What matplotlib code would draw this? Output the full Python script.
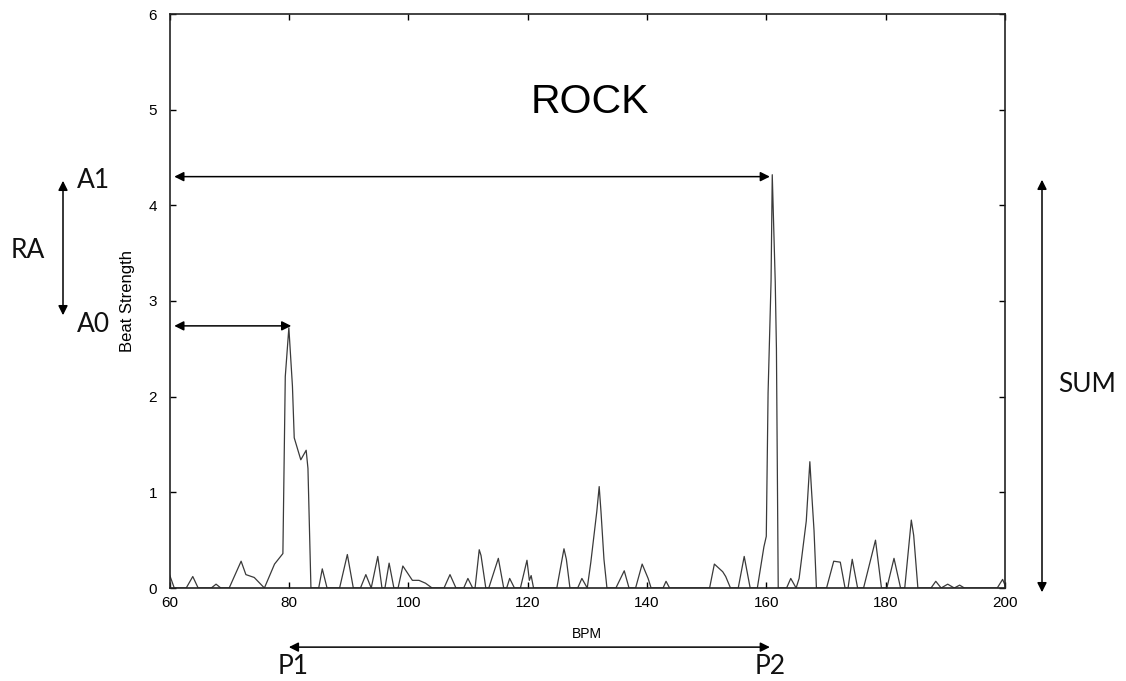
import matplotlib
matplotlib.use("Agg")
import matplotlib.pyplot as plt

bpm = [60.0, 60.8, 62.8, 63.9, 64.8, 67.0, 67.8, 68.6, 70.0, 72.0, 72.8, 74.2, 75.9,
       77.6, 79.0, 79.4, 80.0, 80.6, 80.9, 82.0, 82.9, 83.2, 83.7, 85.0, 85.6, 86.4,
       88.5, 89.8, 90.8, 92.0, 92.9, 93.8, 94.9, 95.6, 96.1, 96.8, 97.6, 98.3, 99.1,
       100.7, 101.8, 102.9, 104.0, 106.0, 107.0, 108.0, 109.3, 110.0, 110.8, 111.2,
       111.9, 112.2, 113.0, 113.5, 115.1, 116.0, 116.5, 117.0, 117.8, 118.8, 119.9,
       120.3, 120.6, 121.0, 124.9, 126.1, 126.5, 127.1, 128.4, 129.1, 130.0, 130.6,
       131.6, 132.0, 132.3, 132.8, 133.3, 134.8, 136.2, 137.0, 138.1, 139.2, 140.2,
       140.7, 142.7, 143.2, 143.8, 150.5, 151.3, 152.7, 153.2, 154.0, 155.3, 156.3,
       157.3, 158.5, 159.6, 160.0, 160.3, 160.8, 161.0, 161.5, 161.7, 162.0, 163.4,
       164.1, 165.0, 165.5, 166.7, 167.3, 167.6, 168.0, 168.4, 170.1, 171.3, 172.4,
       173.2, 173.7, 174.4, 175.3, 176.3, 178.3, 179.3, 180.2, 181.4, 182.5, 183.2,
       184.3, 184.7, 185.4, 187.6, 188.4, 189.3, 190.4, 191.5, 192.4, 193.2, 198.7,
       199.6, 200.0]
strength = [0.14, 0.0, 0.0, 0.12, 0.0, 0.0, 0.04, 0.0, 0.0, 0.28, 0.14, 0.11, 0.0,
            0.25, 0.36, 2.21, 2.72, 2.11, 1.57, 1.34, 1.44, 1.25, 0.0, 0.0, 0.2, 0.0,
            0.0, 0.35, 0.0, 0.0, 0.14, 0.0, 0.33, 0.0, 0.0, 0.26, 0.0, 0.0, 0.23,
            0.08, 0.08, 0.05, 0.0, 0.0, 0.14, 0.0, 0.0, 0.1, 0.0, 0.0,
            0.40, 0.34, 0.0, 0.0, 0.31, 0.0, 0.0, 0.1, 0.0, 0.0, 0.29,
            0.08, 0.13, 0.0, 0.0, 0.41, 0.3, 0.0, 0.0, 0.1, 0.0, 0.27,
            0.8, 1.06, 0.8, 0.3, 0.0, 0.0, 0.18, 0.0, 0.0, 0.25, 0.1,
            0.0, 0.0, 0.07, 0.0, 0.0, 0.25, 0.17, 0.12, 0.0, 0.0, 0.33,
            0.0, 0.0, 0.43, 0.54, 2.04, 3.21, 4.32, 3.2, 2.5, 0.0, 0.0,
            0.1, 0.0, 0.1, 0.7, 1.32, 1.0, 0.6, 0.0, 0.0, 0.28, 0.27,
            0.0, 0.0, 0.3, 0.0, 0.0, 0.5, 0.0, 0.0, 0.31, 0.0, 0.0,
            0.71, 0.55, 0.0, 0.0, 0.07, 0.0, 0.04, 0.0, 0.03, 0.0, 0.0,
            0.09, 0.03]

x_ticks = [60, 80, 100, 120, 140, 160, 180, 200]
y_ticks = [0, 1, 2, 3, 4, 5, 6]

title_text = "ROCK"
xlabel_text = "BPM"
ylabel_text = "Beat Strength"

# annotation anchor values (data units)
a1_level = 4.30
a0_level = 2.74
p1_bpm = 80.0
p2_bpm = 160.9

W, H = 1126, 681
fig = plt.figure(figsize=(W / 100, H / 100), dpi=100)
ax = fig.add_axes([169.5 / W, 1 - 588 / H, (1005 - 169.5) / W, (588 - 14) / H])

ax.plot(bpm, strength, color="#3a3a3a", lw=0.9)
ax.set_xlim(60, 200)
ax.set_ylim(0, 6)
ax.set_xticks(x_ticks)
ax.set_yticks(y_ticks)
ax.tick_params(direction="in", length=4, width=1, top=True, right=True,
               labelsize=11, pad=6)
ax.tick_params(axis="y", pad=9)
for lab in ax.get_xticklabels() + ax.get_yticklabels():
    lab.set_family("Liberation Sans")
for s in ax.spines.values():
    s.set_linewidth(1.2)
    s.set_color("#222222")

ax.set_xlabel(xlabel_text, fontsize=10, family="Liberation Sans", labelpad=12)
ax.set_ylabel(ylabel_text, fontsize=12, family="Liberation Sans", labelpad=10)

ax.text(130.5, 5.085, title_text, fontsize=29.5, family="Liberation Sans",
        ha="center", va="center")

arrowprops = dict(arrowstyle="<|-|>", color="black", lw=1.1,
                  mutation_scale=14, shrinkA=0, shrinkB=0)
# horizontal arrows inside axes
ax.annotate("", xy=(60.8, a1_level), xytext=(p2_bpm - 0.3, a1_level),
            arrowprops=arrowprops)
ax.annotate("", xy=(60.8, a0_level), xytext=(80.4, a0_level),
            arrowprops=arrowprops)
# P1-P2 arrow below axis
tr = ax.get_xaxis_transform()
ax.annotate("", xy=(p1_bpm, -0.103), xytext=(p2_bpm - 0.3, -0.103),
            xycoords=tr, textcoords=tr, arrowprops=arrowprops,
            annotation_clip=False)

# RA arrow (figure coords)
fig.add_artist(matplotlib.patches.FancyArrowPatch(
    (63 / W, 1 - 178 / H), (63 / W, 1 - 318 / H), transform=fig.transFigure,
    arrowstyle="<|-|>", color="black", lw=1.1, mutation_scale=14))
# SUM arrow
fig.add_artist(matplotlib.patches.FancyArrowPatch(
    (1042 / W, 1 - 177 / H), (1042 / W, 1 - 595 / H), transform=fig.transFigure,
    arrowstyle="<|-|>", color="black", lw=1.1, mutation_scale=14))

lab_font = dict(family="Lato", fontsize=19, color="#111111")
fig.text(77 / W, 1 - 180 / H, "A1", ha="left", va="center", **lab_font)
fig.text(77 / W, 1 - 325 / H, "A0", ha="left", va="center", **lab_font)
fig.text(11 / W, 1 - 251 / H, "RA", ha="left", va="center", **lab_font)
fig.text(1087 / W, 1 - 385 / H, "SUM", ha="center", va="center", **lab_font)
fig.text(293 / W, 1 - 666 / H, "P1", ha="center", va="center", **lab_font)
fig.text(770 / W, 1 - 666 / H, "P2", ha="center", va="center", **lab_font)

fig.savefig("out.png", dpi=100, facecolor="white")
